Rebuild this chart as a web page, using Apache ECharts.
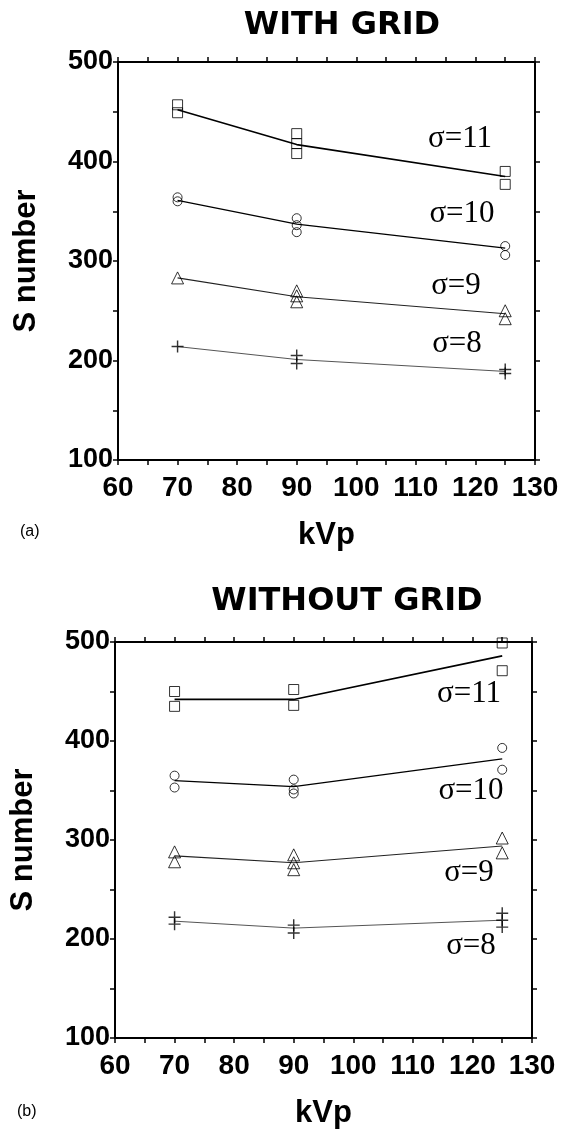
<!DOCTYPE html>
<html>
<head>
<meta charset="utf-8">
<script src="https://cdn.jsdelivr.net/npm/echarts@6/dist/echarts.min.js"></script>
<style>
  html, body { margin: 0; padding: 0; background: #fff; }
  #main { width: 571px; height: 1130px; }
</style>
</head>
<body>
<div id="main"></div>
<script>
// kVp settings where measurements were taken
var kvp = [70, 90, 125];

// (a) with grid - fitted lines (S number)
var withLine11 = [452, 417, 385];
var withLine10 = [361, 337, 313];
var withLine9 = [283, 264, 247];
var withLine8 = [214, 201, 189];

// (a) with grid - measured points [kVp, S]
var withPts11 = [[70, 457], [70, 449], [90, 428], [90, 418], [90, 408], [125, 390], [125, 377]];
var withPts10 = [[70, 364], [70, 360], [90, 343], [90, 336], [90, 329], [125, 315], [125, 306]];
var withPts9 = [[70, 283], [90, 270], [90, 265], [90, 259], [125, 250], [125, 242]];
var withPts8 = [[70, 214], [90, 205], [90, 197], [125, 191], [125, 187]];

// (b) without grid - fitted lines
var noLine11 = [442, 442, 486];
var noLine10 = [360, 354, 382];
var noLine9 = [284, 277, 294];
var noLine8 = [218, 211, 219];

// (b) without grid - measured points
var noPts11 = [[70, 450], [70, 435], [90, 452], [90, 436], [125, 499], [125, 471]];
var noPts10 = [[70, 365], [70, 353], [90, 361], [90, 351], [90, 347], [125, 393], [125, 371]];
var noPts9 = [[70, 288], [70, 278], [90, 285], [90, 277], [90, 270], [125, 302], [125, 287]];
var noPts8 = [[70, 222], [70, 215], [90, 214], [90, 206], [125, 226], [125, 219], [125, 212]];

var xTicks = [60, 70, 80, 90, 100, 110, 120, 130];
var yTicks = [100, 200, 300, 400, 500];
var sigmaLabels = ['σ=11', 'σ=10', 'σ=9', 'σ=8'];

var chart = echarts.init(document.getElementById('main'));

var plusPath = 'path://M4.4,0H5.6V4.4H10V5.6H5.6V10H4.4V5.6H0V4.4H4.4Z';
var hollow = { color: 'rgba(0,0,0,0)', borderColor: '#000', borderWidth: 1 };

function zipLine(vals) {
    return kvp.map(function(k, i) { return [k, vals[i]]; });
}

function xAxisFor(gridIdx, pos) {
    var main = pos === 'bottom';
    return {
        gridIndex: gridIdx,
        type: 'value',
        position: pos,
        min: xTicks[0], max: xTicks[xTicks.length - 1], interval: 10,
        axisLine: { show: true, onZero: false, lineStyle: { color: '#000', width: 2 } },
        axisTick: { show: true, length: 5, lineStyle: { color: '#000', width: 1.5 } },
        minorTick: { show: true, splitNumber: 2, length: 5, lineStyle: { color: '#000', width: 1.5 } },
        axisLabel: {
            show: main, margin: 14, color: '#000',
            fontFamily: 'Liberation Sans', fontWeight: 'bold', fontSize: 28
        },
        splitLine: { show: false },
        name: main ? 'kVp' : '',
        nameLocation: 'middle',
        nameGap: 60,
        nameTextStyle: { color: '#000', fontFamily: 'Liberation Sans', fontWeight: 'bold', fontSize: 31 }
    };
}

function yAxisFor(gridIdx, pos) {
    var main = pos === 'left';
    return {
        gridIndex: gridIdx,
        type: 'value',
        position: pos,
        min: yTicks[0], max: yTicks[yTicks.length - 1], interval: 100,
        axisLine: { show: true, onZero: false, lineStyle: { color: '#000', width: 2 } },
        axisTick: { show: true, length: 5, lineStyle: { color: '#000', width: 1.5 } },
        minorTick: { show: true, splitNumber: 2, length: 5, lineStyle: { color: '#000', width: 1.5 } },
        axisLabel: {
            show: main, margin: 5, color: '#000',
            fontFamily: 'Liberation Sans', fontWeight: 'bold', fontSize: 27
        },
        splitLine: { show: false },
        name: main ? 'S number' : '',
        nameLocation: 'middle',
        nameGap: 76,
        nameTextStyle: { color: '#000', fontFamily: 'Liberation Sans', fontWeight: 'bold', fontSize: 31 }
    };
}

function lineSeries(xi, yi, vals, color, width) {
    return {
        type: 'line', xAxisIndex: xi, yAxisIndex: yi,
        data: zipLine(vals), showSymbol: false, symbol: 'none',
        lineStyle: { color: color, width: width }, z: 2, silent: true
    };
}

function pointSeries(xi, yi, pts, symbol, size, filled) {
    return {
        type: 'scatter', xAxisIndex: xi, yAxisIndex: yi,
        data: pts, symbol: symbol, symbolSize: size,
        itemStyle: filled ? { color: '#000' } : hollow, z: 3, silent: true
    };
}

function sigmaText(txt, x, y) {
    return {
        type: 'text', x: x, y: y,
        style: {
            text: txt, fill: '#000', textAlign: 'center', textVerticalAlign: 'middle',
            font: '31px "Liberation Serif"'
        }
    };
}

var titleFont = { color: '#000', fontFamily: 'DejaVu Sans', fontWeight: 'bold', fontSize: 32 };

option = {
    backgroundColor: '#fff',
    animation: false,
    title: [
        { text: 'WITH GRID', left: 337, top: 5, textAlign: 'center', textStyle: titleFont },
        { text: 'WITHOUT GRID', left: 342, top: 581, textAlign: 'center', textStyle: titleFont }
    ],
    grid: [
        { left: 118, top: 62, width: 417, height: 398 },
        { left: 115, top: 642, width: 417, height: 396 }
    ],
    xAxis: [
        xAxisFor(0, 'bottom'), xAxisFor(0, 'top'),
        xAxisFor(1, 'bottom'), xAxisFor(1, 'top')
    ],
    yAxis: [
        yAxisFor(0, 'left'), yAxisFor(0, 'right'),
        yAxisFor(1, 'left'), yAxisFor(1, 'right')
    ],
    graphic: [
        sigmaText(sigmaLabels[0], 460, 139),
        sigmaText(sigmaLabels[1], 462, 214),
        sigmaText(sigmaLabels[2], 456, 286),
        sigmaText(sigmaLabels[3], 457, 344),
        sigmaText(sigmaLabels[0], 469, 694),
        sigmaText(sigmaLabels[1], 471, 791),
        sigmaText(sigmaLabels[2], 469, 873),
        sigmaText(sigmaLabels[3], 471, 946),
        { type: 'text', left: 20, top: 524, style: { text: '(a)', fill: '#000', font: '16px "Liberation Sans"' } },
        { type: 'text', left: 17, top: 1104, style: { text: '(b)', fill: '#000', font: '16px "Liberation Sans"' } }
    ],
    series: [
        lineSeries(0, 0, withLine11, '#000', 1.6),
        lineSeries(0, 0, withLine10, '#000', 1.3),
        lineSeries(0, 0, withLine9, '#222', 1.1),
        lineSeries(0, 0, withLine8, '#555', 1),
        pointSeries(0, 0, withPts11, 'rect', 10),
        pointSeries(0, 0, withPts10, 'circle', 9),
        pointSeries(0, 0, withPts9, 'triangle', 12),
        pointSeries(0, 0, withPts8, plusPath, 12, true),

        lineSeries(2, 2, noLine11, '#000', 1.6),
        lineSeries(2, 2, noLine10, '#000', 1.3),
        lineSeries(2, 2, noLine9, '#222', 1.1),
        lineSeries(2, 2, noLine8, '#555', 1),
        pointSeries(2, 2, noPts11, 'rect', 10),
        pointSeries(2, 2, noPts10, 'circle', 9),
        pointSeries(2, 2, noPts9, 'triangle', 12),
        pointSeries(2, 2, noPts8, plusPath, 12, true)
    ]
};
chart.setOption(option, true);
</script>
</body>
</html>
